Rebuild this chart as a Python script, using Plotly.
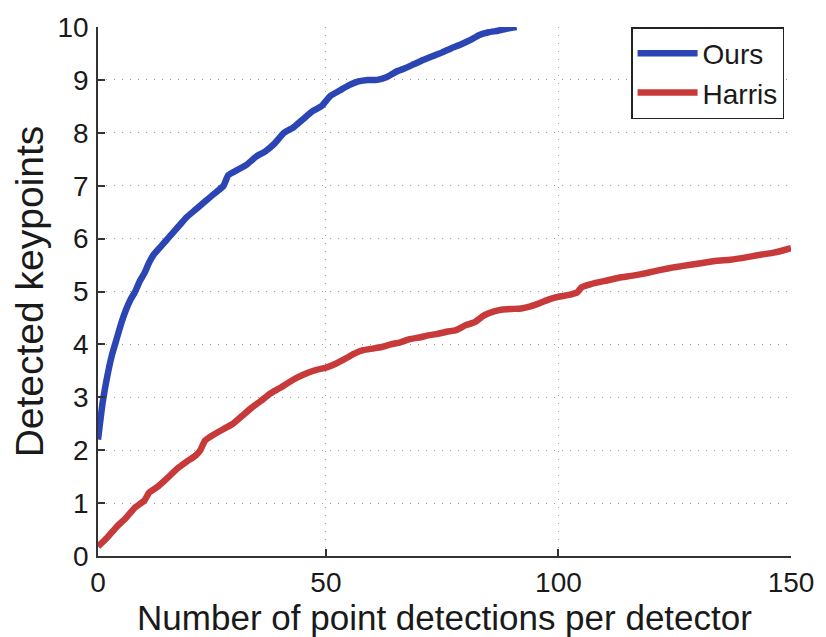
import plotly.graph_objects as go

# Detected keypoints vs. number of point detections per detector
ours_x = [1, 2, 3, 4, 5, 6, 7, 8, 9, 10, 11, 12, 13, 14, 15, 16, 17, 18, 19, 20,
          22, 24, 26, 28, 29, 31, 33, 35, 37, 39, 41, 43, 45, 47, 49, 51, 53, 55,
          57, 59, 61, 63, 65, 67, 69, 71, 73, 75, 77, 79, 81, 83, 85, 87, 89, 91]
ours_y = [2.2, 2.9, 3.4, 3.8, 4.1, 4.4, 4.65, 4.85, 5.0, 5.2, 5.35, 5.55, 5.7, 5.8,
          5.9, 6.0, 6.1, 6.2, 6.3, 6.4, 6.55, 6.7, 6.85, 7.0, 7.2, 7.3, 7.4, 7.55,
          7.65, 7.8, 8.0, 8.1, 8.25, 8.4, 8.5, 8.7, 8.8, 8.9, 8.97, 9.0, 9.0, 9.05,
          9.15, 9.22, 9.3, 9.38, 9.45, 9.52, 9.6, 9.67, 9.75, 9.85, 9.9, 9.93, 9.97,
          10.0]

harris_x = [1, 3, 5, 7, 9, 11, 12, 14, 16, 18, 20, 22, 23, 24, 26, 28, 30, 32, 34,
            36, 38, 40, 42, 44, 46, 48, 50, 52, 54, 56, 58, 60, 62, 64, 66, 68, 70,
            72, 74, 76, 78, 80, 82, 84, 86, 88, 90, 92, 94, 96, 98, 100, 102, 104,
            105, 107, 110, 113, 116, 119, 122, 125, 128, 131, 134, 137, 140, 143,
            146, 148, 150]
harris_y = [0.18, 0.35, 0.55, 0.72, 0.92, 1.05, 1.2, 1.32, 1.48, 1.65, 1.78, 1.9,
            2.0, 2.18, 2.3, 2.4, 2.5, 2.65, 2.8, 2.93, 3.07, 3.17, 3.28, 3.38, 3.46,
            3.52, 3.56, 3.63, 3.72, 3.82, 3.89, 3.92, 3.95, 4.0, 4.04, 4.1, 4.13,
            4.17, 4.2, 4.24, 4.27, 4.36, 4.42, 4.55, 4.62, 4.66, 4.67, 4.68, 4.72,
            4.78, 4.85, 4.9, 4.93, 4.98, 5.08, 5.14, 5.2, 5.26, 5.3, 5.35, 5.41, 5.46,
            5.5, 5.54, 5.58, 5.6, 5.64, 5.69, 5.73, 5.77, 5.82]

x_tick_vals = [1, 50, 100, 150]
x_tick_text = ["0", "50", "100", "150"]
y_tick_vals = list(range(0, 11))

BLUE = "#2B45B4"
RED = "#C83A3A"
FONT = "Liberation Sans, Arial, sans-serif"
INK = "#1a1a1a"

fig = go.Figure()
fig.add_trace(go.Scatter(x=ours_x, y=ours_y, mode="lines", name="Ours",
                         line=dict(color=BLUE, width=6.5, shape="spline", smoothing=0.4)))
fig.add_trace(go.Scatter(x=harris_x, y=harris_y, mode="lines", name="Harris",
                         line=dict(color=RED, width=6.5, shape="spline", smoothing=0.4)))

axis_common = dict(
    showline=True, linecolor="#333333", linewidth=1.5, mirror=False,
    ticks="inside", ticklen=7, tickcolor="#333333", tickwidth=1.5,
    showgrid=True, gridcolor="#a0a0a0", gridwidth=1, griddash="1px,7px",
    zeroline=False, tickfont=dict(family=FONT, size=28, color=INK),
)

fig.update_xaxes(range=[1, 150], tickmode="array", tickvals=x_tick_vals,
                 ticktext=x_tick_text, ticklabelstandoff=1,
                 title=dict(text="Number of point detections per detector",
                            font=dict(family=FONT, size=35, color=INK), standoff=2),
                 **axis_common)
fig.update_yaxes(range=[0, 10], tickmode="array", tickvals=y_tick_vals,
                 ticklabelstandoff=2,
                 title=dict(text="Detected keypoints",
                            font=dict(family=FONT, size=39, color=INK), standoff=2),
                 **axis_common)

fig.update_layout(
    width=826, height=637,
    margin=dict(l=98, r=26, t=19, b=77),
    paper_bgcolor="white", plot_bgcolor="white",
    font=dict(family=FONT, color=INK),
    legend=dict(x=0.99, y=1.0, xanchor="right", yanchor="top",
                bgcolor="white", bordercolor="#222222", borderwidth=1.5,
                font=dict(family=FONT, size=28, color=INK),
                itemwidth=60, tracegroupgap=0),
    showlegend=True,
)

fig.write_html("out.html")
